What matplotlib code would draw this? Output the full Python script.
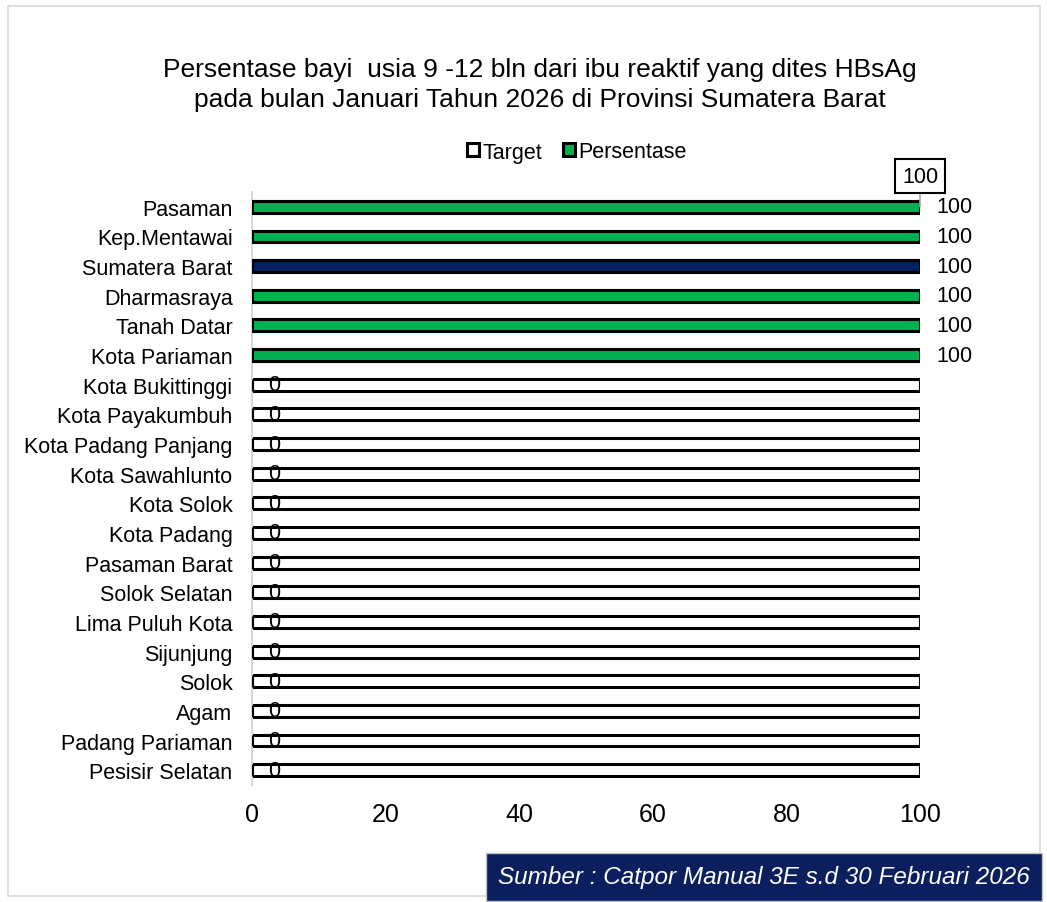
import matplotlib.pyplot as plt
from matplotlib.patches import Rectangle

plt.rcParams['font.family'] = ['Liberation Sans', 'DejaVu Sans']

kabupaten = ['Pasaman', 'Kep.Mentawai', 'Sumatera Barat', 'Dharmasraya', 'Tanah Datar',
             'Kota Pariaman', 'Kota Bukittinggi', 'Kota Payakumbuh', 'Kota Padang Panjang',
             'Kota Sawahlunto', 'Kota Solok', 'Kota Padang', 'Pasaman Barat', 'Solok Selatan',
             'Lima Puluh Kota', 'Sijunjung', 'Solok', 'Agam', 'Padang Pariaman', 'Pesisir Selatan']
target = [100] * 20
persentase = [100, 100, 100, 100, 100, 100, 0, 0, 0, 0, 0, 0, 0, 0, 0, 0, 0, 0, 0, 0]

hijau = '#00B050'
biru = '#002060'
warna = [biru if k == 'Sumatera Barat' else hijau for k in kabupaten]

fig = plt.figure(figsize=(10.47, 9.03), dpi=100)
fig.patches.append(Rectangle((8 / 1047, 1 - 897 / 903), 1032 / 1047, 890 / 903,
                             transform=fig.transFigure, fill=False,
                             edgecolor='#d9d9d9', linewidth=1.2))

ax = fig.add_axes([252 / 1047, 1 - 786 / 903, 668 / 1047, 593 / 903])
y = list(range(len(kabupaten)))

ax.barh(y, target, height=0.4, color='white', edgecolor='black', linewidth=2.2,
        label='Target', zorder=2)
ax.barh(y, persentase, height=0.4, color=warna, edgecolor='black', linewidth=2.2,
        label='Persentase', zorder=3)

for i, v in enumerate(persentase):
    ax.annotate(str(v), (v, i), xytext=(11.5, 0), textcoords='offset points',
                ha='left', va='center', fontsize=15.5, zorder=5)

# label target untuk baris pertama
ax.annotate(str(target[0]), (target[0], 0), xytext=(0, 22), textcoords='offset points',
            ha='center', va='center', fontsize=15.5,
            bbox=dict(boxstyle='square,pad=0.3', facecolor='white', edgecolor='black', lw=1.5),
            arrowprops=dict(arrowstyle='-', color='#a6a6a6', lw=1.2, shrinkA=0, shrinkB=0),
            zorder=6)

ax.set_xlim(0, 100)
ax.set_ylim(len(kabupaten) - 0.5, -0.5)
ax.set_yticks(y)
ax.set_yticklabels(kabupaten, fontsize=15.5)
ax.set_xticks([0, 20, 40, 60, 80, 100])
ax.tick_params(axis='both', length=0)
ax.tick_params(axis='x', labelsize=18, pad=12)
ax.tick_params(axis='y', pad=14)
for s in ['top', 'right', 'bottom']:
    ax.spines[s].set_visible(False)
ax.spines['left'].set_color('#d9d9d9')
ax.spines['left'].set_linewidth(1.5)

fig.text(540 / 1047, 1 - 85 / 903,
         'Persentase bayi  usia 9 -12 bln dari ibu reaktif yang dites HBsAg\n'
         'pada bulan Januari Tahun 2026 di Provinsi Sumatera Barat',
         ha='center', va='center', fontsize=19, linespacing=1.32)

fig.legend(loc='center', bbox_to_anchor=(577 / 1047, 1 - 153 / 903), ncol=2, frameon=False,
           fontsize=15.5, handlelength=0.55, handleheight=0.55, handletextpad=0.15,
           columnspacing=1.0)

fig.text(1 - 17 / 1047, 1 - 878 / 903, 'Sumber : Catpor Manual 3E s.d 30 Februari 2026',
         ha='right', va='center', fontsize=17.5, style='italic', color='white',
         bbox=dict(boxstyle='square,pad=0.5', facecolor='#0b1f5e', edgecolor='#c0c0c0', lw=1))

fig.savefig('out.png', dpi=100)
